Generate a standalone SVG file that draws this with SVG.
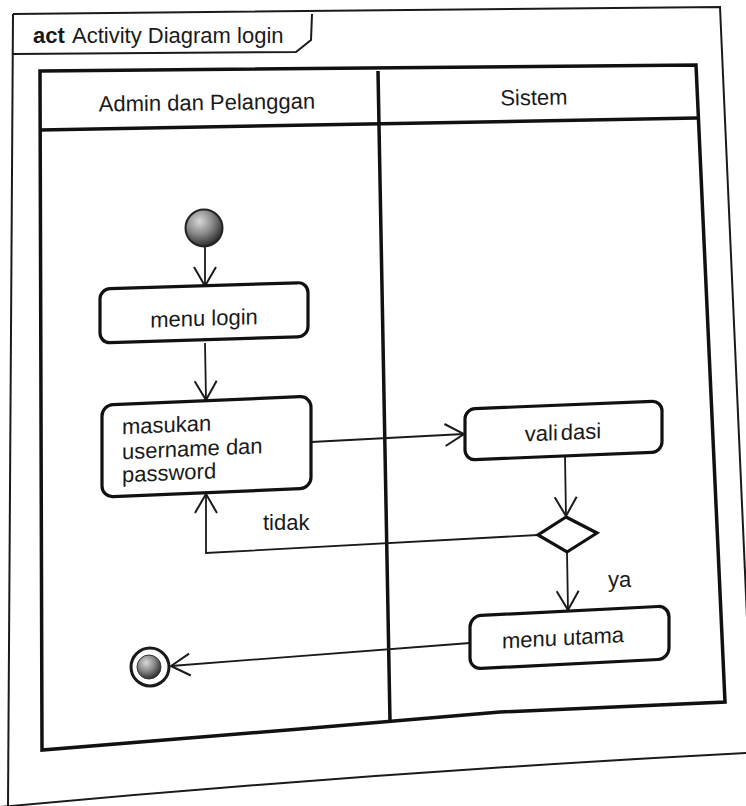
<svg xmlns="http://www.w3.org/2000/svg" width="746" height="806" viewBox="0 0 746 806">
  <style>
    text { font-family: "Liberation Sans", Arial, sans-serif; font-size: 22px; fill: #1a1a1a; }
    .frame { fill: none; stroke: #1a1a1a; stroke-width: 2; }
    .lane { fill: none; stroke: #111; stroke-width: 3.5; stroke-linejoin: miter; }
    .act { fill: #fff; stroke: #111; stroke-width: 3.2; }
    .flow { fill: none; stroke: #1a1a1a; stroke-width: 1.8; }
  </style>
  <defs>
    <marker id="open" viewBox="-20 -13 22 26" markerWidth="22" markerHeight="26" refX="0" refY="0" orient="auto" markerUnits="userSpaceOnUse">
      <path d="M-19,-11 L0,0 L-19,11" fill="none" stroke="#1a1a1a" stroke-width="2"/>
    </marker>
    <radialGradient id="ball" cx="0.38" cy="0.32" r="0.7">
      <stop offset="0" stop-color="#d8d8d8"/>
      <stop offset="0.5" stop-color="#8a8a8a"/>
      <stop offset="1" stop-color="#2a2a2a"/>
    </radialGradient>
  </defs>

  <rect width="746" height="806" fill="#fff"/>

  <!-- diagram frame with name tab -->
  <g id="frame">
    <path class="frame" d="M13,14 L720,7 L748,640"/>
    <path class="frame" d="M13,14 L8,806"/>
    <path class="frame" d="M0,807 Q380,772 746,753"/>
    <path class="frame" d="M13,54 L296,52 L311,40 L312,14"/>
    <text x="33" y="43"><tspan font-weight="bold">act</tspan><tspan x="72">Activity Diagram login</tspan></text>
  </g>

  <!-- swimlanes -->
  <g id="lanes">
    <path class="lane" d="M40,71 L696,65 L725,702 L500,712 L300,729 L42,750 Z"/>
    <path class="lane" d="M40,130 L697,118" stroke-width="3"/>
    <path class="lane" d="M378,71 L390,721" stroke-width="3"/>
    <text x="207" y="110" text-anchor="middle" transform="rotate(-0.8 207 110)">Admin dan Pelanggan</text>
    <text x="534" y="105" text-anchor="middle" transform="rotate(-1 534 105)">Sistem</text>
  </g>

  <!-- connectors -->
  <g id="connectors">
    <path class="flow" d="M205,247 L205,286" marker-end="url(#open)"/>
    <path class="flow" d="M205,343 L206,400" marker-end="url(#open)"/>
    <path class="flow" d="M311,442 L464,434" marker-end="url(#open)"/>
    <path class="flow" d="M565,456 L566,516" marker-end="url(#open)"/>
    <path class="flow" d="M538,535 L206,553 L206,494" marker-end="url(#open)"/>
    <path class="flow" d="M567,552 L568,610" marker-end="url(#open)"/>
    <path class="flow" d="M470,643 L171,666" marker-end="url(#open)"/>
    <text x="263" y="530">tidak</text>
    <text x="608" y="587">ya</text>
  </g>

  <!-- nodes -->
  <g id="start">
    <circle cx="204" cy="228" r="18.5" fill="url(#ball)" stroke="#222" stroke-width="2"/>
  </g>

  <g id="menu-login" transform="translate(100,289) skewY(-1.8)">
    <rect class="act" x="0" y="0" width="208" height="54" rx="10"/>
    <text x="104" y="40" text-anchor="middle">menu login</text>
  </g>

  <g id="masukan" transform="translate(102,405) skewY(-2.4)">
    <rect class="act" x="0" y="0" width="209" height="92" rx="11"/>
    <text x="20" y="30">masukan</text>
    <text x="20" y="55">username dan</text>
    <text x="20" y="78">password</text>
  </g>

  <g id="validasi" transform="translate(465,409) skewY(-2.35)">
    <rect class="act" x="0" y="0" width="197" height="51" rx="10"/>
    <text x="98" y="35" text-anchor="middle">vali<tspan dx="3">dasi</tspan></text>
  </g>

  <g id="decision">
    <polygon points="566,517 597,533 567,552 538,535" fill="#fff" stroke="#111" stroke-width="3.2" stroke-linejoin="miter"/>
  </g>

  <g id="menu-utama" transform="translate(470,616) skewY(-2.9)">
    <rect class="act" x="0" y="0" width="199" height="53" rx="11"/>
    <text x="93" y="34" text-anchor="middle">menu utama</text>
  </g>

  <g id="final">
    <circle cx="150" cy="667" r="19" fill="#fff" stroke="#1a1a1a" stroke-width="3"/>
    <circle cx="149" cy="667" r="12" fill="url(#ball)" stroke="#333" stroke-width="1"/>
  </g>
</svg>
